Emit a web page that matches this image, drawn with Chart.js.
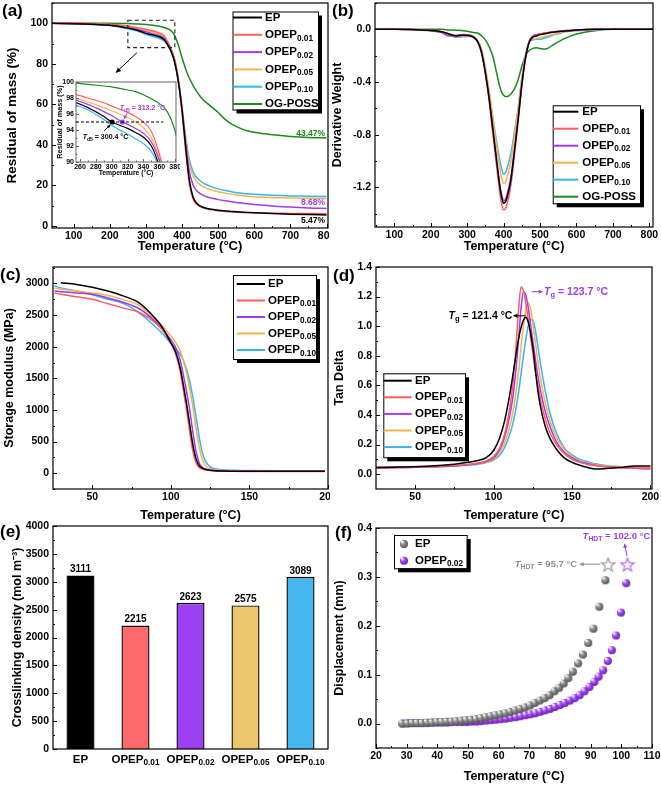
<!DOCTYPE html>
<html>
<head>
<meta charset="utf-8">
<script src="https://cdn.jsdelivr.net/npm/chart.js@4.4.0/dist/chart.umd.min.js"></script>
<style>
html, body { margin: 0; padding: 0; background: #fff; }
#page { position: relative; width: 661px; height: 785px; overflow: hidden; }
.panel { position: absolute; }
</style>
</head>
<body>
<div id="page">
  <div class="panel" style="left:0;top:0;width:330px;height:262px"><canvas id="cA"></canvas></div>
  <div class="panel" style="left:55px;top:78px;width:125px;height:102px"><canvas id="cInset"></canvas></div>
  <div class="panel" style="left:330px;top:0;width:331px;height:262px"><canvas id="cB"></canvas></div>
  <div class="panel" style="left:0;top:262px;width:330px;height:264px"><canvas id="cC"></canvas></div>
  <div class="panel" style="left:330px;top:262px;width:331px;height:264px"><canvas id="cD"></canvas></div>
  <div class="panel" style="left:0;top:520px;width:330px;height:265px"><canvas id="cE"></canvas></div>
  <div class="panel" style="left:330px;top:520px;width:331px;height:265px"><canvas id="cF"></canvas></div>
</div>
<script>
// ---- data ----
const seriesNames = ['EP', 'OPEP_{0.01}', 'OPEP_{0.02}', 'OPEP_{0.05}', 'OPEP_{0.10}', 'OG-POSS'];
const seriesColors = ['#000000', '#ff5c5c', '#9d3bf5', '#f5b34a', '#36b4f2', '#1b8a1b'];

// (a) TGA, residual mass (%)
const tgaTemp = [40, 100, 150, 200, 250, 270, 290, 300, 310, 320, 330, 340, 350, 360, 370, 380, 390, 400, 410, 420,
  430, 440, 450, 460, 470, 480, 490, 500, 520, 540, 560, 580, 600, 650, 700, 750, 800];
const tgaEP = [100.0, 99.8, 99.5, 99.0, 97.6, 96.8, 95.7, 95.0, 94.6, 94.2, 93.7, 93.1, 92.0, 89.5, 86.0, 80.5, 71.0, 57.0, 39.0, 23.0,
  14.5, 11.3, 9.9, 9.1, 8.6, 8.3, 8.0, 7.8, 7.4, 7.1, 6.9, 6.7, 6.5, 6.1, 5.8, 5.6, 5.47];
const tgaOP01 = [100.3, 100.2, 99.9, 99.5, 98.6, 98.0, 97.4, 97.0, 96.6, 96.2, 95.7, 95.0, 93.8, 91.0, 87.0, 81.5, 71.5, 56.0, 37.0, 21.0,
  13.5, 10.8, 9.6, 8.9, 8.4, 8.0, 7.7, 7.5, 7.2, 6.9, 6.7, 6.6, 6.5, 6.3, 6.2, 6.1, 6.0];
const tgaOP02 = [100.1, 99.9, 99.6, 99.2, 97.9, 97.2, 96.3, 95.8, 95.2, 94.7, 94.2, 93.6, 92.5, 90.2, 86.8, 81.0, 71.5, 57.5, 41.0, 27.0,
  20.5, 17.5, 16.0, 15.0, 14.3, 13.8, 13.4, 13.0, 12.4, 11.9, 11.4, 11.0, 10.6, 9.9, 9.3, 8.9, 8.68];
const tgaOP05 = [100.2, 100.0, 99.7, 99.3, 98.1, 97.5, 96.8, 96.4, 96.0, 95.6, 95.0, 94.3, 93.0, 90.6, 87.3, 82.0, 72.5, 59.0, 43.0, 31.0,
  25.0, 22.0, 20.3, 19.2, 18.4, 17.8, 17.3, 16.9, 16.2, 15.6, 15.1, 14.7, 14.4, 14.0, 13.8, 13.7, 13.6];
const tgaOP10 = [99.9, 99.7, 99.4, 98.9, 97.3, 96.5, 95.3, 94.6, 94.0, 93.5, 92.9, 92.3, 91.3, 89.3, 86.0, 80.5, 71.0, 58.0, 44.0, 33.0,
  27.0, 24.0, 22.3, 21.1, 20.2, 19.4, 18.8, 18.3, 17.5, 16.8, 16.3, 15.9, 15.6, 15.1, 14.8, 14.7, 14.6];
const tgaPOSS = [100.0, 100.0, 100.0, 100.0, 99.9, 99.7, 99.5, 99.4, 99.2, 99.0, 98.8, 98.4, 97.9, 97.3, 96.3, 93.8, 89.0, 83.0, 77.5, 73.0,
  69.5, 66.5, 64.0, 62.0, 60.5, 59.0, 57.5, 56.0, 52.5, 50.0, 48.3, 47.0, 46.2, 45.0, 44.2, 43.7, 43.47];
const td5Temp = [300.4, 313.2];
const td5Mass = [95, 95];

// (b) DTG
const dtgTemp = [47, 100, 150, 200, 230, 250, 270, 290, 310, 320, 330, 340, 350, 360, 370, 380, 390, 395, 400, 405,
  410, 420, 430, 440, 450, 460, 470, 480, 490, 500, 510, 520, 540, 560, 580, 600, 650, 700, 810];
const dtgEP = [0, 0, -0.002, -0.008, -0.018, -0.035, -0.05, -0.045, -0.05, -0.065, -0.1, -0.18, -0.33, -0.52, -0.75, -0.98, -1.2, -1.28, -1.32, -1.31,
  -1.27, -1.14, -0.92, -0.68, -0.42, -0.22, -0.1, -0.06, -0.05, -0.04, -0.035, -0.03, -0.02, -0.015, -0.01, -0.005, 0, 0, 0];
const dtgOP01 = [0, 0, -0.002, -0.008, -0.018, -0.035, -0.048, -0.045, -0.05, -0.066, -0.105, -0.19, -0.34, -0.54, -0.78, -1.02, -1.25, -1.33, -1.37, -1.36,
  -1.32, -1.18, -0.95, -0.7, -0.43, -0.22, -0.1, -0.055, -0.045, -0.035, -0.03, -0.025, -0.018, -0.012, -0.008, -0.004, 0, 0, 0];
const dtgOP02 = [0, 0, -0.003, -0.01, -0.025, -0.05, -0.045, -0.04, -0.045, -0.06, -0.1, -0.18, -0.33, -0.51, -0.74, -0.97, -1.19, -1.26, -1.3, -1.29,
  -1.25, -1.12, -0.9, -0.67, -0.41, -0.21, -0.09, -0.05, -0.04, -0.035, -0.03, -0.025, -0.018, -0.012, -0.008, -0.004, 0, 0, 0];
const dtgOP05 = [0, 0, -0.002, -0.008, -0.02, -0.04, -0.055, -0.05, -0.05, -0.062, -0.09, -0.16, -0.29, -0.46, -0.66, -0.87, -1.06, -1.13, -1.17, -1.16,
  -1.12, -1.0, -0.8, -0.6, -0.37, -0.2, -0.1, -0.075, -0.07, -0.065, -0.057, -0.05, -0.035, -0.02, -0.012, -0.008, -0.002, 0, 0];
const dtgOP10 = [0, 0, -0.002, -0.008, -0.022, -0.045, -0.06, -0.055, -0.055, -0.066, -0.09, -0.16, -0.3, -0.48, -0.66, -0.84, -1.0, -1.06, -1.1, -1.09,
  -1.05, -0.94, -0.77, -0.6, -0.38, -0.2, -0.1, -0.08, -0.075, -0.075, -0.068, -0.06, -0.04, -0.025, -0.015, -0.01, -0.003, 0, 0];
const dtgPOSS = [0, 0, 0, 0, 0, -0.004, -0.006, -0.01, -0.02, -0.025, -0.03, -0.05, -0.08, -0.13, -0.2, -0.32, -0.44, -0.48, -0.5, -0.51,
  -0.51, -0.49, -0.45, -0.38, -0.28, -0.2, -0.16, -0.145, -0.14, -0.145, -0.15, -0.145, -0.11, -0.08, -0.055, -0.035, -0.01, 0, 0];

// (c) storage modulus (MPa)
const dmaTemp = [26, 30, 40, 50, 60, 70, 80, 90, 95, 100, 103, 106, 108, 110, 112, 114, 116, 118, 120, 122, 125, 128, 132, 140, 150, 170, 198];
const modEP = [null, 3010, 2985, 2940, 2880, 2800, 2690, 2450, 2290, 2060, 1920, 1660, 1390, 1100, 770, 450, 230, 120, 80, 60, 47, 40, 35, 32, 30, 30, 30];
const modOP01 = [2850, 2830, 2790, 2750, 2680, 2610, 2540, 2380, 2250, 2060, 1890, 1600, 1300, 1000, 650, 350, 170, 90, 65, 52, 42, 36, 32, 29, 28, 27, 27];
const modOP02 = [2880, 2870, 2850, 2830, 2770, 2700, 2600, 2400, 2270, 2110, 1990, 1780, 1550, 1290, 1000, 650, 350, 170, 95, 68, 50, 42, 36, 32, 30, 30, 30];
const modOP05 = [2930, 2910, 2880, 2850, 2810, 2740, 2650, 2430, 2320, 2170, 2070, 1930, 1780, 1580, 1330, 1050, 720, 420, 220, 120, 70, 52, 42, 36, 35, 33, 33];
const modOP10 = [2960, 2930, 2880, 2820, 2750, 2680, 2530, 2320, 2200, 2050, 1970, 1880, 1780, 1640, 1450, 1200, 900, 580, 330, 190, 100, 70, 55, 46, 42, 40, 40];

// (d) tan delta
const tanTemp = [25, 40, 60, 75, 85, 90, 95, 100, 104, 107, 110, 112, 114, 116, 117.5, 119, 120.5, 122, 123.5, 125,
  126.5, 128, 130, 133, 136, 140, 145, 150, 155, 160, 165, 170, 180, 190, 200];
const tanEP = [0.045, 0.048, 0.055, 0.068, 0.082, 0.093, 0.11, 0.16, 0.25, 0.36, 0.52, 0.65, 0.79, 0.92, 0.99, 1.04, 1.06, 1.03, 0.96, 0.86,
  0.72, 0.58, 0.45, 0.32, 0.24, 0.17, 0.11, 0.08, 0.06, 0.045, 0.035, 0.037, 0.045, 0.055, 0.055];
const tanOP01 = [0.04, 0.045, 0.05, 0.058, 0.068, 0.075, 0.088, 0.12, 0.18, 0.27, 0.43, 0.58, 0.82, 1.12, 1.265, 1.24, 1.16, 1.05, 0.93, 0.82,
  0.7, 0.62, 0.5, 0.37, 0.28, 0.2, 0.14, 0.1, 0.08, 0.065, 0.058, 0.052, 0.045, 0.042, 0.04];
const tanOP02 = [0.045, 0.045, 0.05, 0.056, 0.065, 0.072, 0.085, 0.11, 0.17, 0.25, 0.38, 0.5, 0.68, 0.92, 1.12, 1.235, 1.21, 1.13, 1.02, 0.9,
  0.79, 0.68, 0.56, 0.42, 0.32, 0.22, 0.15, 0.11, 0.085, 0.07, 0.06, 0.052, 0.045, 0.04, 0.035];
const tanOP05 = [0.05, 0.05, 0.052, 0.056, 0.063, 0.07, 0.08, 0.1, 0.15, 0.21, 0.31, 0.4, 0.53, 0.7, 0.86, 1.0, 1.11, 1.16, 1.12, 1.02,
  0.9, 0.78, 0.64, 0.48, 0.36, 0.25, 0.17, 0.12, 0.09, 0.075, 0.065, 0.057, 0.05, 0.045, 0.045];
const tanOP10 = [0.04, 0.045, 0.05, 0.055, 0.062, 0.068, 0.078, 0.095, 0.13, 0.18, 0.26, 0.33, 0.43, 0.56, 0.68, 0.8, 0.91, 1.0, 1.045, 1.04,
  0.98, 0.88, 0.74, 0.56, 0.41, 0.28, 0.18, 0.13, 0.1, 0.085, 0.07, 0.06, 0.05, 0.045, 0.04];

// (e) crosslinking density
const barLabels = ['EP', 'OPEP_{0.01}', 'OPEP_{0.02}', 'OPEP_{0.05}', 'OPEP_{0.10}'];
const crosslinkDensity = [3111, 2215, 2623, 2575, 3089];
const barColors = ['#000000', '#fd6a6a', '#9b3ff2', '#ecc66c', '#46b6ef'];

// (f) HDT displacement (mm)
const hdtEpTemp = [28.5, 30.2, 31.8, 33.4, 35.0, 36.6, 38.2, 39.8, 41.4, 43.0, 44.6, 46.2, 47.8, 49.4, 51.0, 52.6, 54.2, 55.8, 57.4, 59.0, 60.6,
  62.2, 63.8, 65.4, 67.0, 68.6, 70.2, 71.8, 73.4, 75.0, 76.6, 78.2, 79.7, 81.2, 82.7, 84.2, 85.9, 87.5, 89.2, 90.9, 92.8, 94.8];
const hdtEpDisp = [0.000, 0.000, 0.001, 0.001, 0.001, 0.002, 0.002, 0.003, 0.003, 0.004, 0.004, 0.005, 0.006, 0.007, 0.008, 0.009, 0.011, 0.013, 0.015, 0.017, 0.019,
  0.021, 0.024, 0.027, 0.030, 0.033, 0.037, 0.042, 0.047, 0.052, 0.058, 0.066, 0.073, 0.082, 0.093, 0.106, 0.123, 0.141, 0.165, 0.194, 0.239, 0.293];
const hdtOpTemp = [28.8, 30.4, 32.0, 33.6, 35.2, 36.8, 38.4, 40.0, 41.6, 43.2, 44.8, 46.4, 48.0, 49.6, 51.2, 52.8, 54.4, 56.0, 57.6, 59.2, 60.8, 62.4, 64.0, 65.6,
  67.2, 68.8, 70.4, 72.0, 73.6, 75.2, 76.8, 78.4, 80.0, 81.6, 83.2, 84.8, 86.4, 88.0, 89.6, 91.2, 92.6, 94.1, 95.6, 96.9, 98.3, 99.9, 101.6];
const hdtOpDisp = [0.000, 0.001, 0.001, 0.001, 0.001, 0.001, 0.002, 0.002, 0.002, 0.002, 0.003, 0.003, 0.003, 0.003, 0.004, 0.004, 0.005, 0.006, 0.007, 0.008, 0.009, 0.010, 0.012, 0.013,
  0.015, 0.017, 0.019, 0.021, 0.024, 0.027, 0.030, 0.034, 0.038, 0.042, 0.047, 0.052, 0.058, 0.066, 0.075, 0.085, 0.096, 0.109, 0.128, 0.150, 0.180, 0.227, 0.287];
const hdtTemp = [95.7, 102.0];
const hdtStarDisp = [0.326, 0.326];

// tick values
const ticksA_x = [100, 200, 300, 400, 500, 600, 700, 800];
const ticksA_y = [0, 20, 40, 60, 80, 100];
const ticksInset_x = [260, 280, 300, 320, 340, 360, 380];
const ticksInset_y = [90, 92, 94, 96, 98, 100];
const ticksB_y = [-1.2, -0.8, -0.4, 0.0];
const ticksC_x = [50, 100, 150, 200];
const ticksC_y = [0, 500, 1000, 1500, 2000, 2500, 3000];
const ticksD_y = [0.0, 0.2, 0.4, 0.6, 0.8, 1.0, 1.2, 1.4];
const ticksE_y = [0, 500, 1000, 1500, 2000, 2500, 3000, 3500, 4000];
const ticksF_x = [20, 30, 40, 50, 60, 70, 80, 90, 100, 110];
const ticksF_y = [0.0, 0.1, 0.2, 0.3, 0.4];

// ---- helpers ----
const FONT = '"Liberation Sans", Arial, sans-serif';
const tickFont = { family: FONT, size: 10.5, weight: 'bold' };

function richParts(str) {
  const parts = [];
  let buf = '', italic = false, i = 0;
  while (i < str.length) {
    const c = str[i];
    if (c === '*') { if (buf) parts.push({ t: buf, it: italic }); buf = ''; italic = !italic; i++; continue; }
    if ((c === '_' || c === '^') && str[i + 1] === '{') {
      if (buf) parts.push({ t: buf, it: italic }); buf = '';
      const end = str.indexOf('}', i);
      parts.push({ t: str.slice(i + 2, end), it: false, sub: c === '_', sup: c === '^' });
      i = end + 1; continue;
    }
    buf += c; i++;
  }
  if (buf) parts.push({ t: buf, it: italic });
  return parts;
}

function drawRich(ctx, str, x, y, size, color, align) {
  const parts = richParts(str);
  const fontOf = p => (p.it ? 'italic ' : '') + 'bold ' + ((p.sub || p.sup) ? size * 0.72 : size) + 'px ' + FONT;
  let w = 0;
  parts.forEach(p => { ctx.font = fontOf(p); p.w = ctx.measureText(p.t).width; w += p.w; });
  let cx = align === 'right' ? x - w : align === 'center' ? x - w / 2 : x;
  ctx.save();
  ctx.fillStyle = color; ctx.textBaseline = 'middle'; ctx.textAlign = 'left';
  parts.forEach(p => {
    ctx.font = fontOf(p);
    const dy = p.sub ? size * 0.3 : p.sup ? -size * 0.35 : 0;
    ctx.fillText(p.t, cx, y + dy);
    cx += p.w;
  });
  ctx.restore();
  return w;
}

function arrow(ctx, x0, y0, x1, y1, color, head) {
  const h = head || 5, ang = Math.atan2(y1 - y0, x1 - x0);
  ctx.save();
  ctx.strokeStyle = color; ctx.fillStyle = color; ctx.lineWidth = 1;
  ctx.beginPath(); ctx.moveTo(x0, y0); ctx.lineTo(x1 - Math.cos(ang) * h * 0.6, y1 - Math.sin(ang) * h * 0.6); ctx.stroke();
  ctx.beginPath(); ctx.moveTo(x1, y1);
  ctx.lineTo(x1 - h * Math.cos(ang - 0.42), y1 - h * Math.sin(ang - 0.42));
  ctx.lineTo(x1 - h * Math.cos(ang + 0.42), y1 - h * Math.sin(ang + 0.42));
  ctx.closePath(); ctx.fill();
  ctx.restore();
}

function ballImage(color, edge, r) {
  const c = document.createElement('canvas');
  c.width = c.height = r * 2 + 2;
  const g = c.getContext('2d');
  const grad = g.createRadialGradient(r * 0.7, r * 0.6, 0.3, r + 1, r + 1, r + 0.5);
  grad.addColorStop(0, '#ffffff');
  grad.addColorStop(0.45, color);
  grad.addColorStop(1, edge);
  g.fillStyle = grad;
  g.beginPath(); g.arc(r + 1, r + 1, r, 0, Math.PI * 2); g.fill();
  return c;
}

function starImage(color, R) {
  const s = Math.ceil(R * 2 + 4), c = document.createElement('canvas');
  c.width = c.height = s;
  const g = c.getContext('2d'), cx = s / 2, cy = s / 2 + 1;
  g.beginPath();
  for (let k = 0; k < 10; k++) {
    const rr = k % 2 === 0 ? R : R * 0.42, a = -Math.PI / 2 + k * Math.PI / 5;
    const px = cx + rr * Math.cos(a), py = cy + rr * Math.sin(a);
    if (k === 0) g.moveTo(px, py); else g.lineTo(px, py);
  }
  g.closePath();
  g.strokeStyle = color; g.lineWidth = 1.2; g.stroke();
  return c;
}

function lineSet(xs, ys, i, lw) {
  return {
    label: seriesNames[i],
    data: xs.map((x, k) => ys[k] == null ? null : { x: x, y: ys[k] }).filter(Boolean),
    borderColor: seriesColors[i], backgroundColor: seriesColors[i],
    borderWidth: lw || 1.5, pointRadius: 0, fill: false, cubicInterpolationMode: 'monotone'
  };
}

function axisOpts(dir, a) {
  return {
    type: a.type || 'linear', min: a.min, max: a.max, offset: !!a.offset,
    grid: { display: false, drawTicks: false },
    border: { display: false },
    afterBuildTicks: function (s) { if (a.ticks) s.ticks = a.ticks.map(v => ({ value: v })); },
    afterFit: function (s) {
      if (dir === 'x') s.height = a.size; else s.width = a.size;
      s.paddingTop = 0; s.paddingBottom = 0; s.paddingLeft = 0; s.paddingRight = 0;
    },
    ticks: {
      display: !a.hideTicks,
      font: a.tickFont || tickFont, color: '#000',
      padding: a.tickPad != null ? a.tickPad : (dir === 'x' ? 2 : 4),
      autoSkip: false, maxRotation: 0, minRotation: 0,
      callback: function (v) { return a.fmt ? a.fmt(v) : String(v); }
    },
    title: {
      display: !!a.title, text: a.title || '', color: '#000',
      font: { family: FONT, size: a.titleSize || 12.5, weight: 'bold' },
      padding: dir === 'x' ? { top: 0, bottom: a.titlePad || 0 } : { top: a.titlePad || 0, bottom: 0 }
    }
  };
}

function framePlugin(cfg) {
  return {
    id: 'frame',
    afterDatasetsDraw(chart) {
      const { ctx, chartArea: a, scales } = chart;
      ctx.save();
      ctx.strokeStyle = cfg.color || '#000';
      ctx.lineWidth = cfg.lw || 1.2;
      ctx.strokeRect(a.left, a.top, a.right - a.left, a.bottom - a.top);
      ctx.lineWidth = 1;
      const L = cfg.tick || 4;
      if (!cfg.noXTicks) {
        scales.x.ticks.forEach(t => {
          const p = Math.round(scales.x.getPixelForValue(t.value)) + 0.5;
          ctx.beginPath(); ctx.moveTo(p, a.bottom); ctx.lineTo(p, a.bottom - L); ctx.stroke();
        });
        (cfg.minorX || []).forEach(v => {
          const p = Math.round(scales.x.getPixelForValue(v)) + 0.5;
          ctx.beginPath(); ctx.moveTo(p, a.bottom); ctx.lineTo(p, a.bottom - L / 2); ctx.stroke();
        });
      }
      scales.y.ticks.forEach(t => {
        const p = Math.round(scales.y.getPixelForValue(t.value)) + 0.5;
        ctx.beginPath(); ctx.moveTo(a.left, p); ctx.lineTo(a.left + L, p); ctx.stroke();
      });
      (cfg.minorY || []).forEach(v => {
        const p = Math.round(scales.y.getPixelForValue(v)) + 0.5;
        ctx.beginPath(); ctx.moveTo(a.left, p); ctx.lineTo(a.left + L / 2, p); ctx.stroke();
      });
      ctx.restore();
    },
    afterDraw(chart) {
      if (cfg.label) {
        const ctx = chart.ctx;
        ctx.save();
        ctx.font = 'bold 17px ' + FONT; ctx.fillStyle = '#000';
        ctx.textBaseline = 'middle'; ctx.textAlign = 'left';
        ctx.fillText(cfg.label, cfg.lx, cfg.ly);
        ctx.restore();
      }
    }
  };
}

function boxLegend(cfg) {
  return {
    id: 'boxLegend',
    afterDraw(chart) {
      const ctx = chart.ctx;
      ctx.save();
      ctx.fillStyle = '#000';
      ctx.fillRect(cfg.x + 4, cfg.y + 4, cfg.w, cfg.h);
      ctx.fillStyle = '#fff';
      ctx.fillRect(cfg.x, cfg.y, cfg.w, cfg.h);
      ctx.strokeStyle = '#000'; ctx.lineWidth = 1;
      ctx.strokeRect(cfg.x + 0.5, cfg.y + 0.5, cfg.w, cfg.h);
      chart.data.datasets.filter(d => !d.noLegend).forEach((d, i) => {
        const y = cfg.y0 + cfg.dy * i;
        if (cfg.ball) {
          const im = d.pointStyle;
          ctx.drawImage(im, cfg.mx - im.width / 2, y - im.height / 2);
        } else {
          ctx.strokeStyle = d.borderColor; ctx.lineWidth = 2;
          ctx.beginPath(); ctx.moveTo(cfg.lx0, y); ctx.lineTo(cfg.lx1, y); ctx.stroke();
        }
        drawRich(ctx, d.label, cfg.tx, y, cfg.size || 11.5, '#000', 'left');
      });
      ctx.restore();
    }
  };
}

function baseOptions(pad, xa, ya) {
  return {
    responsive: true, maintainAspectRatio: false, animation: false, devicePixelRatio: 1,
    layout: { padding: pad },
    plugins: { legend: { display: false }, tooltip: { enabled: false } },
    scales: { x: axisOpts('x', xa), y: axisOpts('y', ya) }
  };
}

const fmt1 = v => Number(v).toFixed(1);
const fmt0 = v => String(Math.round(v));
const tempTitle = 'Temperature (°C)';

// ---- (a) TGA ----
const tgaSeries = [tgaEP, tgaOP01, tgaOP02, tgaOP05, tgaOP10, tgaPOSS];
new Chart(document.getElementById('cA'), {
  type: 'line',
  data: { datasets: tgaSeries.map((s, i) => lineSet(tgaTemp, s, i)) },
  options: baseOptions({ left: 0, top: 3, right: 2, bottom: 0 },
    { min: 40, max: 804, ticks: ticksA_x, size: 34, fmt: fmt0, title: tempTitle, titleSize: 13, titlePad: 7.5 },
    { min: -1, max: 110, ticks: ticksA_y, size: 52, fmt: fmt0, title: 'Residual of mass (%)', titleSize: 13.5, titlePad: 4 }),
  plugins: [
    framePlugin({ label: '(a)', lx: 2, ly: 11, minorX: [50, 150, 250, 350, 450, 550, 650, 750], minorY: [10, 30, 50, 70, 90, 110] }),
    boxLegend({ x: 232.5, y: 11.5, w: 85.5, h: 98, y0: 17.5, dy: 17.3, lx0: 233, lx1: 262, tx: 265, size: 11.5 }),
    {
      id: 'notesA',
      afterDraw(chart) {
        const { ctx, scales: { x, y }, chartArea } = chart;
        ctx.save();
        ctx.setLineDash([4, 3]); ctx.strokeStyle = '#222'; ctx.lineWidth = 1.1;
        const x0 = x.getPixelForValue(250), x1 = x.getPixelForValue(380);
        const y0 = y.getPixelForValue(101.5), y1 = y.getPixelForValue(88);
        ctx.strokeRect(x0, y0, x1 - x0, y1 - y0);
        ctx.setLineDash([]);
        ctx.restore();
        arrow(ctx, x.getPixelForValue(275), y.getPixelForValue(85.5), x.getPixelForValue(216), y.getPixelForValue(75.5), '#000', 6);
        const xr = chartArea.right - 3;
        drawRich(ctx, '43.47%', xr, y.getPixelForValue(43.47) - 4, 8.5, seriesColors[5], 'right');
        drawRich(ctx, '8.68%', xr, y.getPixelForValue(8.68) - 6, 8.5, seriesColors[2], 'right');
        drawRich(ctx, '5.47%', xr, y.getPixelForValue(5.47) + 5.5, 8.5, '#000', 'right');
      }
    }
  ]
});

// ---- (a) inset ----
const insetFont = { family: FONT, size: 7, weight: 'bold' };
const insetSets = tgaSeries.map((s, i) => lineSet(tgaTemp, s, i, 1.2));
insetSets.push({
  label: 'Td5', noLegend: true, showLine: false,
  data: td5Temp.map((t, k) => ({ x: t, y: td5Mass[k] })),
  pointRadius: 2.6, pointBackgroundColor: ['#000000', '#9d3bf5'], pointBorderWidth: 0
});
new Chart(document.getElementById('cInset'), {
  type: 'line',
  data: { datasets: insetSets },
  options: baseOptions({ left: 0, top: 2, right: 4, bottom: 0 },
    { min: 255, max: 381, ticks: ticksInset_x, size: 18, fmt: fmt0, tickFont: insetFont, tickPad: 1, title: tempTitle, titleSize: 6.8, titlePad: 2.6 },
    { min: 90, max: 100, ticks: ticksInset_y, size: 21, fmt: fmt0, tickFont: insetFont, tickPad: 2, title: 'Residual of mass (%)', titleSize: 7.3, titlePad: 0.5 }),
  plugins: [
    framePlugin({ color: '#666', lw: 1, tick: 3, minorX: [270, 290, 310, 330, 350, 370], minorY: [91, 93, 95, 97, 99] }),
    {
      id: 'notesInset',
      afterDatasetsDraw(chart) {
        const { ctx, scales: { x, y } } = chart;
        const yy = y.getPixelForValue(95);
        ctx.save();
        ctx.setLineDash([3, 2]); ctx.strokeStyle = '#000'; ctx.lineWidth = 1;
        ctx.beginPath(); ctx.moveTo(x.getPixelForValue(255), yy); ctx.lineTo(x.getPixelForValue(365), yy); ctx.stroke();
        ctx.restore();
        const pb = x.getPixelForValue(td5Temp[0]), pp = x.getPixelForValue(td5Temp[1]);
        arrow(ctx, pp + 5, yy - 9, pp + 1.5, yy - 2.5, '#9d3bf5', 4);
        arrow(ctx, pb - 8, yy + 9, pb - 1.5, yy + 2.5, '#000', 4);
        drawRich(ctx, '*T*_{d5} = 313.2 °C', x.getPixelForValue(310), y.getPixelForValue(96.7), 7, '#9d3bf5', 'left');
        drawRich(ctx, '*T*_{d5} = 300.4 °C', x.getPixelForValue(263.5), y.getPixelForValue(93.1), 7, '#000', 'left');
      }
    }
  ]
});

// ---- (b) DTG ----
const dtgSeries = [dtgEP, dtgOP01, dtgOP02, dtgOP05, dtgOP10, dtgPOSS];
new Chart(document.getElementById('cB'), {
  type: 'line',
  data: { datasets: dtgSeries.map((s, i) => lineSet(dtgTemp, s, i)) },
  options: baseOptions({ left: 0, top: 3, right: 8, bottom: 0 },
    { min: 47, max: 810, ticks: ticksA_x, size: 35, fmt: fmt0, title: tempTitle, titleSize: 12.5, titlePad: 7.8 },
    { min: -1.5, max: 0.2, ticks: ticksB_y, size: 45, fmt: fmt1, title: 'Derivative Weight', titleSize: 12.5, titlePad: 0 }),
  plugins: [
    framePlugin({ label: '(b)', lx: 2, ly: 11, minorX: [50, 150, 250, 350, 450, 550, 650, 750], minorY: [-1.4, -1.0, -0.6, -0.2, 0.2] }),
    boxLegend({ x: 222.7, y: 105.3, w: 87.3, h: 98, y0: 111.7, dy: 17, lx0: 223, lx1: 248.3, tx: 252.3, size: 11.5 })
  ]
});

// ---- (c) storage modulus ----
const modSeries = [modEP, modOP01, modOP02, modOP05, modOP10];
new Chart(document.getElementById('cC'), {
  type: 'line',
  data: { datasets: modSeries.map((s, i) => lineSet(dmaTemp, s, i)) },
  options: baseOptions({ left: 0, top: 5, right: 2, bottom: 0 },
    { min: 25, max: 200, ticks: ticksC_x, size: 37, fmt: fmt0, title: tempTitle, titleSize: 12.5, titlePad: 3 },
    { min: -250, max: 3260, ticks: ticksC_y, size: 53, fmt: fmt0, title: 'Storage modulus (MPa)', titleSize: 12.5, titlePad: 2 }),
  plugins: [
    framePlugin({ label: '(c)', lx: 0, ly: 13.5, minorX: [75, 125, 175], minorY: [250, 750, 1250, 1750, 2250, 2750, 3250, -250] }),
    boxLegend({ x: 233, y: 13, w: 83, h: 84, y0: 22, dy: 16.5, lx0: 236.7, lx1: 265, tx: 268, size: 11.5 })
  ]
});

// ---- (d) tan delta ----
const tanSeries = [tanEP, tanOP01, tanOP02, tanOP05, tanOP10];
new Chart(document.getElementById('cD'), {
  type: 'line',
  data: { datasets: tanSeries.map((s, i) => lineSet(tanTemp, s, i)) },
  options: baseOptions({ left: 0, top: 5, right: 9, bottom: 0 },
    { min: 25, max: 201, ticks: ticksC_x, size: 37, fmt: fmt0, title: tempTitle, titleSize: 12.5, titlePad: 3 },
    { min: -0.1, max: 1.4, ticks: ticksD_y, size: 46, fmt: fmt1, title: 'Tan Delta', titleSize: 12.5, titlePad: 2 }),
  plugins: [
    framePlugin({ label: '(d)', lx: 3, ly: 14, minorX: [75, 125, 175], minorY: [0.1, 0.3, 0.5, 0.7, 0.9, 1.1, 1.3] }),
    boxLegend({ x: 53.3, y: 111.3, w: 81.7, h: 84, y0: 118.7, dy: 16.6, lx0: 53.5, lx1: 81.7, tx: 85, size: 11.5 }),
    {
      id: 'notesD',
      afterDraw(chart) {
        const { ctx, scales: { x, y } } = chart;
        arrow(ctx, x.getPixelForValue(120.5), y.getPixelForValue(1.07), x.getPixelForValue(112.3), y.getPixelForValue(1.07), '#000', 5);
        drawRich(ctx, '*T*_{g} = 121.4 °C', x.getPixelForValue(112), y.getPixelForValue(1.07), 10.5, '#000', 'right');
        arrow(ctx, x.getPixelForValue(124.2), y.getPixelForValue(1.233), x.getPixelForValue(131.6), y.getPixelForValue(1.233), '#9d3bf5', 5);
        drawRich(ctx, '*T*_{g} = 123.7 °C', x.getPixelForValue(132.2), y.getPixelForValue(1.233), 10.5, '#9d3bf5', 'left');
      }
    }
  ]
});

// ---- (e) crosslinking density ----
new Chart(document.getElementById('cE'), {
  type: 'bar',
  data: {
    labels: barLabels,
    datasets: [{
      label: 'Crosslinking density', data: crosslinkDensity,
      backgroundColor: barColors, borderColor: '#000', borderWidth: 1.4,
      barPercentage: 0.51, categoryPercentage: 1.0
    }]
  },
  options: baseOptions({ left: 0, top: 6, right: 2, bottom: 0 },
    { type: 'category', offset: true, size: 36, hideTicks: true },
    { min: 0, max: 4000, ticks: ticksE_y, size: 53, fmt: fmt0, title: 'Crosslinking density (mol m⁻³)', titleSize: 12.5, titlePad: 10 }),
  plugins: [
    framePlugin({ label: '(e)', lx: 0, ly: 12, noXTicks: true, minorY: [250, 750, 1250, 1750, 2250, 2750, 3250, 3750] }),
    {
      id: 'notesE',
      afterDraw(chart) {
        const { ctx, scales: { x } } = chart;
        const bars = chart.getDatasetMeta(0).data;
        bars.forEach((b, i) => {
          drawRich(ctx, String(crosslinkDensity[i]), b.x, b.y - 6, 10, '#000', 'center');
          drawRich(ctx, barLabels[i], x.getPixelForValue(i), 239.5, 11.5, '#000', 'center');
        });
      }
    }
  ]
});

// ---- (f) HDT ----
const ballEP = ballImage('#8d8d8d', '#4a4a4a', 4);
const ballOP = ballImage('#a64bf4', '#5e17a3', 4);
new Chart(document.getElementById('cF'), {
  type: 'scatter',
  data: {
    datasets: [
      { label: 'EP', data: hdtEpTemp.map((t, k) => ({ x: t, y: hdtEpDisp[k] })), pointStyle: ballEP, pointRadius: 4 },
      { label: 'OPEP_{0.02}', data: hdtOpTemp.map((t, k) => ({ x: t, y: hdtOpDisp[k] })), pointStyle: ballOP, pointRadius: 4 },
      { label: 'HDT EP', noLegend: true, data: [{ x: hdtTemp[0], y: hdtStarDisp[0] }], pointStyle: starImage('#9a9a9a', 7), pointRadius: 7 },
      { label: 'HDT OPEP', noLegend: true, data: [{ x: hdtTemp[1], y: hdtStarDisp[1] }], pointStyle: starImage('#b468f5', 7), pointRadius: 7 }
    ]
  },
  options: baseOptions({ left: 0, top: 7, right: 9, bottom: 0 },
    { min: 20, max: 110, ticks: ticksF_x, size: 37, fmt: fmt0, title: tempTitle, titleSize: 12.5, titlePad: 0.8 },
    { min: -0.05, max: 0.4, ticks: ticksF_y, size: 46, fmt: fmt1, title: 'Displacement (mm)', titleSize: 12.5, titlePad: 2.5 }),
  plugins: [
    framePlugin({ label: '(f)', lx: 5, ly: 13.5, minorX: [25, 35, 45, 55, 65, 75, 85, 95, 105], minorY: [-0.05, 0.05, 0.15, 0.25, 0.35] }),
    boxLegend({ x: 64, y: 15, w: 72.7, h: 33.3, y0: 24, dy: 16.7, mx: 74, tx: 85, size: 11.5, ball: true }),
    {
      id: 'notesF',
      afterDraw(chart) {
        const { ctx, scales: { x, y } } = chart;
        const sx = x.getPixelForValue(hdtTemp[0]), sy = y.getPixelForValue(hdtStarDisp[0]);
        arrow(ctx, sx - 8, sy, sx - 29, sy, '#8d8d8d', 5);
        drawRich(ctx, '*T*_{HDT} = 95.7 °C', sx - 31, sy, 9.5, '#8d8d8d', 'right');
        const px = x.getPixelForValue(hdtTemp[1]), py = y.getPixelForValue(hdtStarDisp[1]);
        arrow(ctx, px - 0.5, py - 8, px - 3, py - 21, '#9d3bf5', 5);
        drawRich(ctx, '*T*_{HDT} = 102.0 °C', px - 11, py - 27.5, 9.5, '#9d3bf5', 'center');
      }
    }
  ]
});
</script>
</body>
</html>
